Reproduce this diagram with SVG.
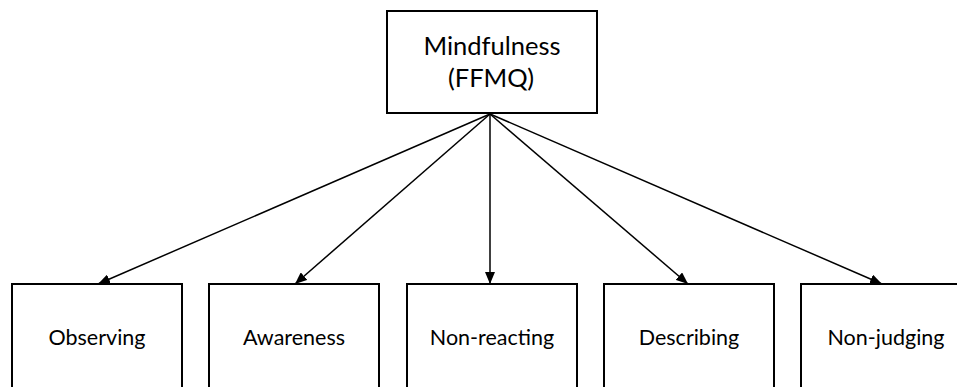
<svg xmlns="http://www.w3.org/2000/svg" width="957" height="387" viewBox="0 0 957 387">
  <style>
    .box { fill: #ffffff; stroke: #000000; stroke-width: 2; }
    .label { font-family: Lato, "Open Sans", sans-serif; fill: #000000; text-anchor: middle; }
    .top { font-size: 25.5px; }
    .leaf { font-size: 21.5px; }
    .edge { stroke: #000000; stroke-width: 1.5; fill: none; marker-end: url(#arrow); }
  </style>
  <defs>
    <marker id="arrow" viewBox="0 0 12 10" refX="12" refY="5" markerWidth="12" markerHeight="10" markerUnits="userSpaceOnUse" orient="auto">
      <path d="M0,0 L12,5 L0,10 Z" fill="#000000"/>
    </marker>
  </defs>
  <rect width="957" height="387" fill="#ffffff"/>

  <g id="connectors">
    <line class="edge" x1="490" y1="114" x2="98" y2="284"/>
    <line class="edge" x1="490" y1="114" x2="295" y2="284"/>
    <line class="edge" x1="490" y1="114" x2="490" y2="284"/>
    <line class="edge" x1="490" y1="114" x2="688" y2="284"/>
    <line class="edge" x1="490" y1="114" x2="882" y2="284"/>
  </g>

  <g id="mindfulness">
    <rect class="box" x="387" y="11" width="210" height="102"/>
    <text class="label top" x="492" y="55">Mindfulness</text>
    <text class="label top" x="491" y="87">(FFMQ)</text>
  </g>

  <g id="observing">
    <rect class="box" x="12" y="284" width="170" height="120"/>
    <text class="label leaf" x="97" y="345">Observing</text>
  </g>

  <g id="awareness">
    <rect class="box" x="209" y="284" width="170" height="120"/>
    <text class="label leaf" x="294" y="345">Awareness</text>
  </g>

  <g id="non-reacting">
    <rect class="box" x="407" y="284" width="170" height="120"/>
    <text class="label leaf" x="492" y="345">Non-reacting</text>
  </g>

  <g id="describing">
    <rect class="box" x="604" y="284" width="170" height="120"/>
    <text class="label leaf" x="689" y="345">Describing</text>
  </g>

  <g id="non-judging">
    <rect class="box" x="801" y="284" width="170" height="120"/>
    <text class="label leaf" x="886" y="345">Non-judging</text>
  </g>
</svg>
